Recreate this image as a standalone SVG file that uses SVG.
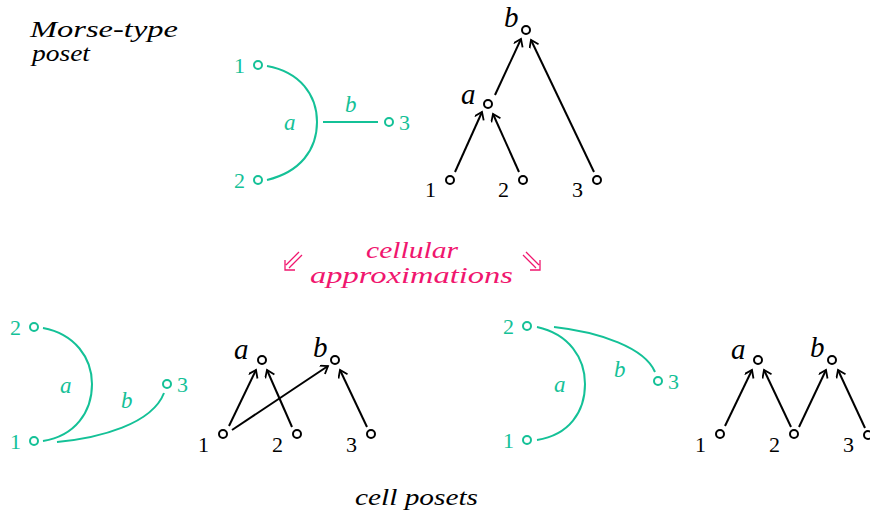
<svg xmlns="http://www.w3.org/2000/svg" width="870" height="517" viewBox="0 0 870 517">
<style>
.g{stroke:#14c197;stroke-width:2;fill:none}
.gc{stroke:#14c197;stroke-width:2;fill:#fff}
.gt{fill:#14c197;font-family:"Liberation Serif",serif;font-size:22px}
.gi{fill:#14c197;font-family:"Liberation Serif",serif;font-style:italic;font-size:23px}
.k{stroke:#000;stroke-width:2;fill:none}
.kc{stroke:#000;stroke-width:2;fill:#fff}
.kt{fill:#000;font-family:"Liberation Serif",serif;font-size:22px}
.ki{fill:#000;font-family:"Liberation Serif",serif;font-style:italic;font-size:29px}
.ti{fill:#000;font-family:"Liberation Serif",serif;font-style:italic;font-size:23px}
.pi{fill:#f0166e;font-family:"Liberation Serif",serif;font-style:italic;font-size:24px}
</style>
<defs>
<marker id="ar" markerWidth="12" markerHeight="12" refX="9" refY="5" orient="auto" markerUnits="userSpaceOnUse">
<path d="M2,0 L9,5 L2,10" fill="none" stroke="#000" stroke-width="1.8"/>
</marker>
</defs>
<text class="ti" x="30" y="37" textLength="148" lengthAdjust="spacingAndGlyphs">Morse-type</text>
<text class="ti" x="32" y="61" textLength="58" lengthAdjust="spacingAndGlyphs">poset</text>

<g id="connectors">
<path class="g" d="M267,66 C300,72 317,95 317,122 C317,150 300,172 267,180"/>
<path class="g" d="M323,122 L378,122"/>
<path class="k" d="M455,172 L482,112" marker-end="url(#ar)"/>
<path class="k" d="M519,172 L493,114" marker-end="url(#ar)"/>
<path class="k" d="M495,95 L521,39" marker-end="url(#ar)"/>
<path class="k" d="M594,172 L531,40" marker-end="url(#ar)"/>

<path class="g" d="M43,328 C75,334 92,358 92,384 C92,412 75,436 43,441"/>
<path class="g" d="M57,442 C100,438 152,424 164,393"/>
<path class="k" d="M229,426 L256,370" marker-end="url(#ar)"/>
<path class="k" d="M292,427 L267,370" marker-end="url(#ar)"/>
<path class="k" d="M232,430 L328,366" marker-end="url(#ar)"/>
<path class="k" d="M367,427 L340,370" marker-end="url(#ar)"/>

<path class="g" d="M537,327 C569,334 585,358 585,384 C585,412 569,435 537,440"/>
<path class="g" d="M554,327 C600,332 645,348 655,372"/>
<path class="k" d="M725,426 L752,370" marker-end="url(#ar)"/>
<path class="k" d="M791,427 L764,370" marker-end="url(#ar)"/>
<path class="k" d="M799,427 L826,370" marker-end="url(#ar)"/>
<path class="k" d="M865,428 L838,370" marker-end="url(#ar)"/>
</g>

<g id="top-green">
<circle class="gc" cx="258" cy="65" r="4"/><text class="gt" x="234" y="73">1</text>
<circle class="gc" cx="258" cy="180" r="4"/><text class="gt" x="234" y="188">2</text>
<circle class="gc" cx="389" cy="122" r="4"/><text class="gt" x="399" y="130">3</text>
<text class="gi" x="284" y="130">a</text>
<text class="gi" x="345" y="112">b</text>
</g>

<g id="top-poset">
<g id="tb"><circle class="kc" cx="526" cy="30" r="4"/><text class="ki" x="504" y="27">b</text></g>
<g id="ta"><circle class="kc" cx="488" cy="104" r="4"/><text class="ki" x="461" y="104">a</text></g>
<g id="t1"><circle class="kc" cx="450" cy="180" r="4"/><text class="kt" x="425" y="197">1</text></g>
<g id="t2"><circle class="kc" cx="523" cy="180" r="4"/><text class="kt" x="498" y="197">2</text></g>
<g id="t3"><circle class="kc" cx="597" cy="180" r="4"/><text class="kt" x="572" y="197">3</text></g>
</g>

<g id="middle">
<text class="pi" x="366" y="258" textLength="92" lengthAdjust="spacingAndGlyphs">cellular</text>
<text class="pi" x="310" y="283" textLength="203" lengthAdjust="spacingAndGlyphs">approximations</text>
<g stroke="#f0166e" stroke-width="1.3" fill="none">
<path d="M299,252 L286,265 M302,255 L289,268 M285,260 L285,270 L295,270"/>
<path d="M526,252 L539,265 M523,255 L536,268 M540,260 L540,270 L530,270"/>
</g>
</g>

<g id="bl-green">
<circle class="gc" cx="34" cy="327" r="4"/><text class="gt" x="10" y="335">2</text>
<circle class="gc" cx="34" cy="441" r="4"/><text class="gt" x="10" y="449">1</text>
<circle class="gc" cx="167" cy="384" r="4"/><text class="gt" x="177" y="392">3</text>
<text class="gi" x="60" y="393">a</text>
<text class="gi" x="121" y="408">b</text>
</g>

<g id="bl-poset">
<g><circle class="kc" cx="262" cy="360" r="4"/><text class="ki" x="234" y="359">a</text></g>
<g><circle class="kc" cx="335" cy="360" r="4"/><text class="ki" x="313" y="357">b</text></g>
<g><circle class="kc" cx="223" cy="434" r="4"/><text class="kt" x="198" y="452">1</text></g>
<g><circle class="kc" cx="297" cy="434" r="4"/><text class="kt" x="272" y="452">2</text></g>
<g><circle class="kc" cx="371" cy="434" r="4"/><text class="kt" x="346" y="452">3</text></g>
</g>

<g id="br-green">
<circle class="gc" cx="527" cy="326" r="4"/><text class="gt" x="503" y="334">2</text>
<circle class="gc" cx="527" cy="440" r="4"/><text class="gt" x="503" y="448">1</text>
<circle class="gc" cx="658" cy="381" r="4"/><text class="gt" x="668" y="389">3</text>
<text class="gi" x="554" y="392">a</text>
<text class="gi" x="614" y="377">b</text>
</g>

<g id="br-poset">
<g><circle class="kc" cx="758" cy="360" r="4"/><text class="ki" x="731" y="359">a</text></g>
<g><circle class="kc" cx="832" cy="360" r="4"/><text class="ki" x="810" y="357">b</text></g>
<g><circle class="kc" cx="720" cy="434" r="4"/><text class="kt" x="695" y="452">1</text></g>
<g><circle class="kc" cx="794" cy="434" r="4"/><text class="kt" x="769" y="452">2</text></g>
<g><circle class="kc" cx="868" cy="435" r="4"/><text class="kt" x="843" y="452">3</text></g>
</g>

<text class="ti" x="355" y="505" textLength="123" lengthAdjust="spacingAndGlyphs">cell posets</text>
</svg>
